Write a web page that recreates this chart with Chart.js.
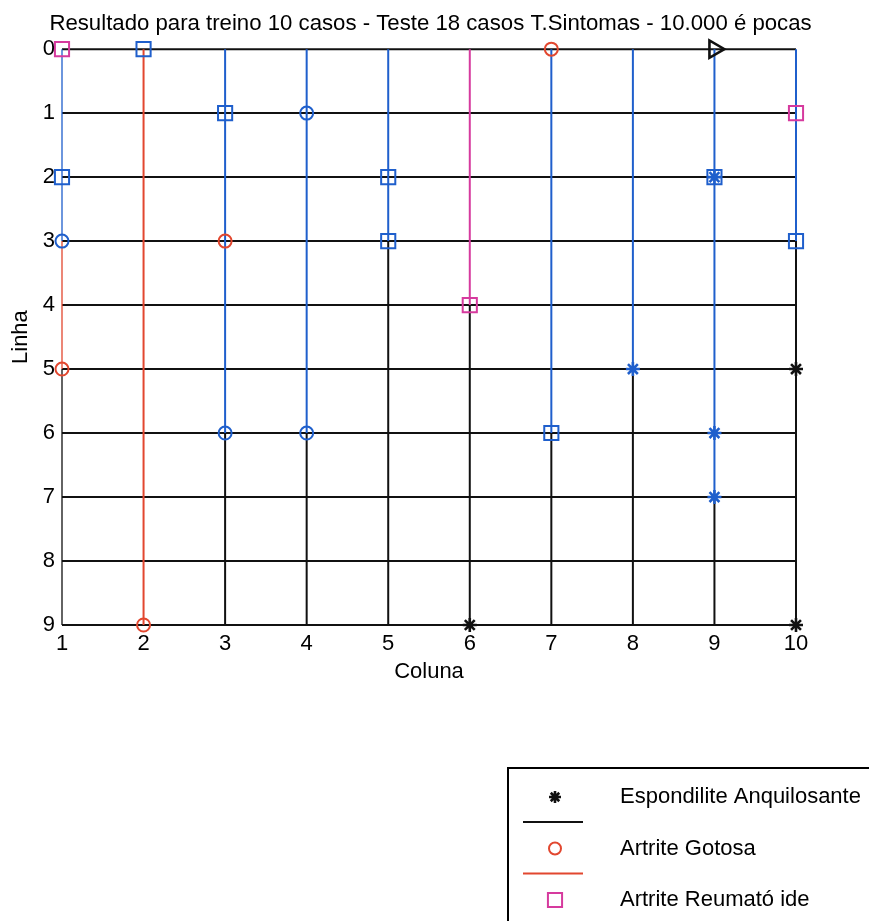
<!DOCTYPE html>
<html>
<head>
<meta charset="utf-8">
<script src="https://cdn.jsdelivr.net/npm/chart.js@4"></script>
<style>
  html, body { margin: 0; padding: 0; background: #fff; }
  canvas { display: block; }
</style>
</head>
<body>
<canvas id="mapa" width="869" height="921"></canvas>
<script>
// Grid of the map: columns (x) and rows (y, 0 at the top)
const columns = [1, 2, 3, 4, 5, 6, 7, 8, 9, 10];
const rows = [0, 1, 2, 3, 4, 5, 6, 7, 8, 9];

// Vertical runs along each column: [column, first row, last row]
const blueRuns = [[1, 0, 3], [3, 0, 6], [4, 0, 6], [5, 0, 3], [7, 0, 6], [8, 0, 5], [9, 0, 7], [10, 0, 3]];
const gotosaRuns = [[1, 3, 5], [2, 0, 9]];
const reumatoideRuns = [[6, 0, 4]];
const espondiliteRuns = [[1, 5, 9], [3, 6, 9], [4, 6, 9], [5, 3, 9], [6, 4, 9], [7, 6, 9], [8, 5, 9], [9, 7, 9], [10, 3, 9]];

// Labelled cells: [column, row]
const espondilitePoints = [[6, 9], [10, 5], [10, 9]];
const gotosaPoints = [[7, 0], [3, 3], [1, 5], [2, 9]];
const reumatoidePoints = [[1, 0], [10, 1], [6, 4]];
const blueSquarePoints = [[2, 0], [3, 1], [1, 2], [5, 2], [9, 2], [5, 3], [10, 3], [7, 6]];
const blueCirclePoints = [[4, 1], [1, 3], [3, 6], [4, 6]];
const blueStarPoints = [[9, 2], [8, 5], [9, 6], [9, 7]];
const trianglePoints = [[9, 0]];

const BLACK = '#111111';
const BLUE = '#1f5fcc';
const RED = '#e2472f';
const MAGENTA = '#d63a9e';
const FONT = '"Liberation Sans", Arial, Helvetica, sans-serif';

function runsToData(runs) {
  const out = [];
  runs.forEach(([c, a, b]) => { out.push({ x: c, y: a }, { x: c, y: b }, { x: c, y: null }); });
  return out;
}
function rowLinesData() {
  const out = [];
  const first = columns[0], last = columns[columns.length - 1];
  rows.forEach(r => { out.push({ x: first, y: r }, { x: last, y: r }, { x: first, y: null }); });
  return out;
}
function pointsToData(pts) {
  return pts.map(([c, r]) => ({ x: c, y: r }));
}
// the runs on the left edge of the map are drawn half as wide
const edgeWidth = ctx =>
  (ctx.p0.parsed.x === columns[0] && ctx.p1.parsed.x === columns[0]) ? 1.3 : undefined;

function lineSet(label, data, color, order) {
  return {
    label, data, type: 'line', borderColor: color, borderWidth: 2,
    pointRadius: 0, spanGaps: false, showLine: true, fill: false,
    segment: { borderWidth: edgeWidth },
    order, clip: false
  };
}
function markerSet(label, data, color, style, radius, width, rotation) {
  return {
    label, data, type: 'line', showLine: false,
    pointStyle: style, pointRadius: radius, pointRotation: rotation || 0,
    pointBorderColor: color, pointBackgroundColor: 'rgba(0,0,0,0)', pointBorderWidth: width,
    order: 0, clip: false
  };
}

const espondiliteMarks = markerSet('Espondilite Anquilosante', pointsToData(espondilitePoints), BLACK, 'star', 7, 2.6);
const gotosaMarks = markerSet('Artrite Gotosa', pointsToData(gotosaPoints), RED, 'circle', 6.5, 2);
const reumatoideMarks = markerSet('Artrite Reumató ide', pointsToData(reumatoidePoints), MAGENTA, 'rect', 10, 2);
const espondiliteLines = lineSet('', runsToData(espondiliteRuns), BLACK, 1);
const gotosaLines = lineSet('', runsToData(gotosaRuns), RED, 1);
const reumatoideLines = lineSet('', runsToData(reumatoideRuns), MAGENTA, 1);

const datasets = [
  espondiliteMarks, gotosaMarks, reumatoideMarks,
  markerSet('quadrados', pointsToData(blueSquarePoints), BLUE, 'rect', 10, 2),
  markerSet('círculos', pointsToData(blueCirclePoints), BLUE, 'circle', 6.5, 2),
  markerSet('estrelas', pointsToData(blueStarPoints), BLUE, 'star', 7, 2.6),
  markerSet('triângulo', pointsToData(trianglePoints), BLACK, 'triangle', 10, 2.6, 90),
  lineSet('', runsToData(blueRuns), BLUE, 1),
  gotosaLines, reumatoideLines, espondiliteLines,
  lineSet('', rowLinesData(), BLACK, 2)
];

// Legend box in the lower right corner
const legendEntries = [
  { marks: espondiliteMarks, line: espondiliteLines, size: 6 },
  { marks: gotosaMarks, line: gotosaLines, size: 6 },
  { marks: reumatoideMarks, line: reumatoideLines, size: 10 }
];
const classLegend = {
  id: 'classLegend',
  afterDraw(chart) {
    const ctx = chart.ctx;
    ctx.save();
    ctx.fillStyle = '#ffffff';
    ctx.fillRect(508, 768, 380, 200);
    ctx.strokeStyle = '#000000';
    ctx.lineWidth = 2;
    ctx.strokeRect(508, 768, 380, 200);
    ctx.font = '22px ' + FONT;
    ctx.textAlign = 'left';
    ctx.textBaseline = 'middle';
    legendEntries.forEach((e, i) => {
      const y = 797 + i * 51.5;
      ctx.strokeStyle = e.marks.pointBorderColor;
      ctx.fillStyle = 'rgba(0,0,0,0)';
      ctx.lineWidth = e.marks.pointBorderWidth;
      Chart.helpers.drawPoint(ctx, {
        pointStyle: e.marks.pointStyle,
        radius: e.size,
        rotation: 0,
        borderWidth: e.marks.pointBorderWidth
      }, 555, y);
      ctx.fillStyle = '#000';
      ctx.fillText(e.marks.label, 620, y);
      ctx.beginPath();
      ctx.moveTo(523, y + 25);
      ctx.lineTo(583, y + 25);
      ctx.strokeStyle = e.line.borderColor;
      ctx.lineWidth = 2;
      ctx.stroke();
    });
    ctx.restore();
  }
};

Chart.defaults.font.family = FONT;
Chart.defaults.font.size = 22;
Chart.defaults.color = '#000';

new Chart(document.getElementById('mapa'), {
  type: 'line',
  data: { datasets },
  plugins: [classLegend],
  options: {
    responsive: false,
    animation: false,
    devicePixelRatio: 1,
    events: [],
    layout: { padding: { top: 0, left: 0, right: 8, bottom: 235.4 } },
    plugins: {
      legend: { display: false },
      tooltip: { enabled: false },
      title: {
        display: true,
        text: 'Resultado para treino 10 casos - Teste 18 casos T.Sintomas - 10.000 é pocas',
        color: '#000',
        font: { size: 22.2, weight: 'normal' },
        padding: { top: 10.5, bottom: 12 }
      }
    },
    scales: {
      x: {
        type: 'linear',
        min: columns[0],
        max: columns[columns.length - 1],
        grid: { display: false, drawTicks: false },
        border: { display: false },
        afterBuildTicks: s => { s.ticks = columns.map(v => ({ value: v })); },
        afterFit: s => { s.height = 60.6; },
        ticks: { padding: 6.2, autoSkip: false, maxRotation: 0, color: '#000', font: { size: 22 } },
        title: { display: true, text: 'Coluna', color: '#000', font: { size: 22 }, padding: { top: 1.6, bottom: 0 } }
      },
      y: {
        type: 'linear',
        reverse: true,
        min: rows[0],
        max: rows[rows.length - 1],
        grid: { display: false, drawTicks: false },
        border: { display: false },
        afterBuildTicks: s => { s.ticks = rows.map(v => ({ value: v })); },
        afterFit: s => { s.width = 62; },
        ticks: { padding: 7, autoSkip: false, color: '#000', font: { size: 22 } },
        title: { display: true, text: 'Linha', color: '#000', font: { size: 22 }, padding: { top: 8, bottom: 0 } }
      },
      margem: {
        type: 'linear',
        position: 'right',
        display: true,
        grid: { display: false, drawTicks: false },
        border: { display: false },
        ticks: { display: false },
        afterFit: s => { s.width = 65; }
      }
    }
  }
});
</script>
</body>
</html>
